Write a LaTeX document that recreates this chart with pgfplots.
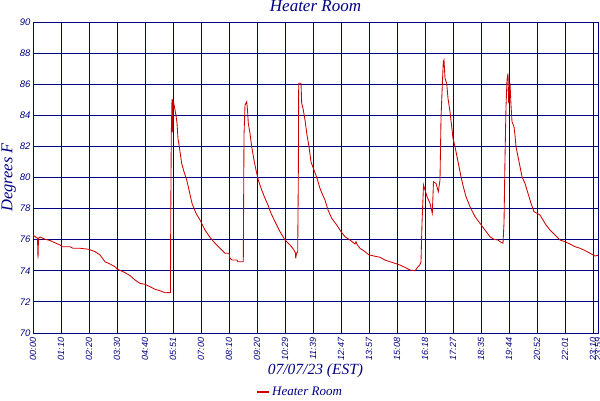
\documentclass[border=0pt]{standalone}
\usepackage{pgfplots}
\pgfplotsset{compat=1.18}
\usepackage{fontspec}
\setmainfont{Liberation Serif}
\setsansfont{Liberation Sans}
\definecolor{navy}{HTML}{000080}
\definecolor{heat}{HTML}{CC0000}
\begin{document}
\begin{tikzpicture}[x=1pt,y=1pt]
\useasboundingbox (-33,-67) rectangle (567,333);
\begin{axis}[
    at={(0,0)}, anchor=south west,
    scale only axis,
    width=565pt, height=311pt,
    xmin=0, xmax=565,
    ymin=70, ymax=90,
    ytick={70,72,...,90},
    xtick={0,28,56,84,112,140,168,196,224,252,280,308,336,364,392,420,448,476,504,532,560,565},
    xticklabels={00:00,01:10,02:20,03:30,04:40,05:51,07:00,08:10,09:20,10:29,11:39,12:47,13:57,15:08,16:18,17:27,18:35,19:44,20:52,22:01,23:10,23:59},
    grid=major,
    major grid style={navy, line width=0.9pt},
    axis line style={navy, line width=0.9pt},
    major tick length=0pt,
    /pgf/number format/assume math mode=true,
    tick label style={font=\sffamily\itshape\fontsize{9.5}{10}\selectfont, text=navy},
    xticklabel style={rotate=90, anchor=east, xshift=-1pt, font=\sffamily\itshape\fontsize{9}{10}\selectfont},
    yticklabel style={xshift=1pt},
    title={Heater Room},
    title style={at={(0.5,1)}, anchor=base, yshift=5pt, font=\itshape\fontsize{17}{18}\selectfont, text=navy},
    xlabel={07/07/23 (EST)},
    xlabel style={at={(axis description cs:0.5,-0.135)}, anchor=base, font=\itshape\fontsize{15.5}{16}\selectfont, text=navy},
    ylabel={Degrees F},
    ylabel style={at={(axis description cs:-0.043,0.5)}, anchor=center, rotate=0, font=\itshape\fontsize{16.5}{17}\selectfont, text=navy},
    legend style={at={(axis description cs:0.473,-0.19)}, anchor=center, draw=none, fill=none, font=\itshape\fontsize{13}{14}\selectfont, text=navy, inner sep=0pt},
    legend image code/.code={\draw[#1, line width=1.6pt] (0pt,0pt) -- (12pt,0pt);},
]
\addplot[heat, line width=0.85pt] coordinates {
(0,76.3) (3,76.15) (4.5,76.1) (5,74.8) (5.5,76.1) (7,76.17) (12,76.03) (17,75.95)
(22,75.8) (27,75.66) (29,75.55) (37,75.55) (40,75.45) (47,75.45) (56,75.38) (62,75.23)
(67,75.02) (72,74.58) (77,74.44) (82,74.26) (84,74.12) (92,73.88) (97,73.69) (102,73.41)
(107,73.19) (112,73.13) (117,72.98) (122,72.81) (127,72.72) (132,72.59) (137.5,72.6)
(137.7,76.94) (138.3,82.84) (139,85.05) (139.3,82.9) (140,84.9) (140.7,84.8) (143,84.0)
(144,83.5) (145,82.5) (146.3,81.98) (148.7,80.9) (151,80.37) (153.7,79.84) (156,79.2)
(159,78.34) (163,77.7) (167,77.27) (172,76.62) (177,76.15) (182,75.77) (187,75.45)
(192,75.13) (196,75.13) (197,74.8) (199,74.69) (204,74.69) (205,74.58) (210,74.58)
(210.3,74.6) (211,82.73) (212,84.66) (213.7,84.87) (214.5,84.34) (215.3,83.49) (217,82.84)
(218.7,81.98) (221,81.13) (223,80.48) (225.3,79.84) (228.7,79.2) (232,78.66) (235,78.23)
(238,77.7) (242,77.16) (247,76.52) (252,75.98) (257,75.66) (261,75.34) (262.5,75.13)
(262.7,74.8) (263.5,75.13) (264.7,75.2) (265.3,79.95) (265.7,86.06) (268,86.06)
(268.7,84.77) (270,84.45) (272,83.7) (274,82.73) (276,81.98) (278,81.0) (281,80.48)
(284,79.95) (287,79.3) (289,78.98) (292,78.55) (295,77.91) (298.7,77.38) (303.7,76.95)
(308,76.52) (312,76.19) (317,75.98) (322,75.72) (323,75.87) (324,75.7) (327,75.45)
(332,75.23) (336,75.02) (347,74.87) (352,74.69) (362,74.48) (367,74.37) (372,74.22)
(377,74.05) (382,74.0) (385,74.26) (387,74.4) (388,74.58) (389,77.05) (390.5,79.52)
(392,79.2) (394,78.77) (397,78.34) (399.3,77.7) (400.5,79.73) (403,79.62) (405.3,79.09)
(407,79.84) (408,83.81) (409.3,85.95) (410.3,87.45) (411,87.56) (412,86.38) (413.7,86.06)
(415,85.09) (417,84.23) (418.7,83.27) (420,82.52) (422,81.98) (424,81.34) (426,80.7)
(428,80.05) (430.3,79.41) (433,78.77) (437,78.12) (442,77.48) (447,77.05) (452,76.62)
(457,76.19) (461,76.02) (465,75.98) (467,75.87) (470,75.77) (471,77.05) (472,81.23)
(473,84.56) (474,86.27) (475,86.7) (475.7,84.77) (477,86.06) (478,84.66) (479,83.59)
(481,83.27) (482,82.73) (483,81.98) (485,81.34) (487,80.7) (489,80.05) (492,79.62)
(495,78.98) (498,78.34) (501,77.8) (504,77.7) (507,77.59) (510,77.27) (513,76.95)
(517,76.62) (522,76.3) (527,75.98) (532,75.87) (537,75.72) (542,75.55) (547,75.45)
(552,75.3) (557,75.13) (562,74.95) (565,75.0)
};
\addlegendentry{Heater Room}
\end{axis}
\end{tikzpicture}
\end{document}
